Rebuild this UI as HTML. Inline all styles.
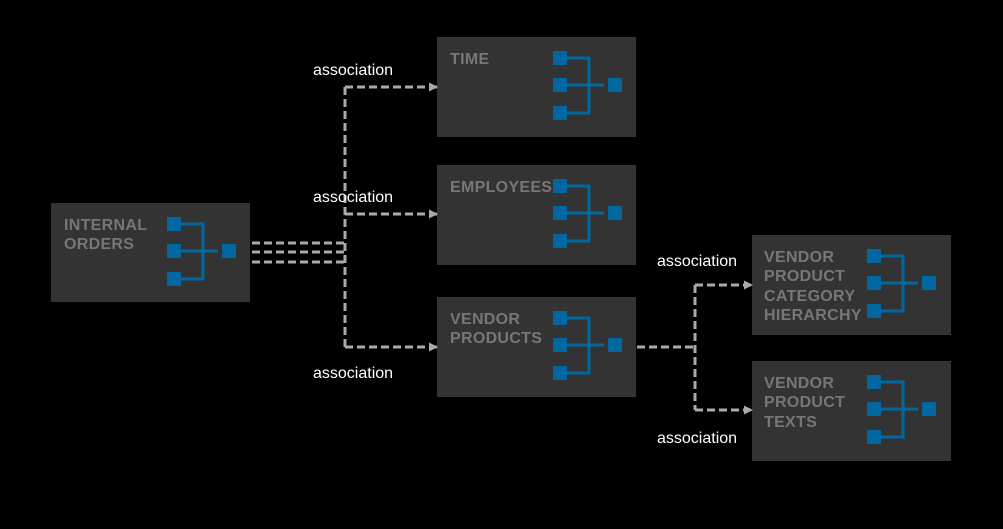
<!DOCTYPE html>
<html><head><style>
body{margin:0;background:#000;width:1003px;height:524px;overflow:hidden;font-family:"Liberation Sans",sans-serif}
</style></head><body>
<svg width="1003" height="524" xmlns="http://www.w3.org/2000/svg">
<defs>
<marker id="a" markerWidth="9" markerHeight="9" refX="8" refY="4.5" orient="auto" markerUnits="userSpaceOnUse"><path d="M0,0 L9,4.5 L0,9 z" fill="#aaa"/></marker>
<g id="ic">
<rect x="0" y="0" width="14" height="14" fill="#0067a0"/>
<rect x="0" y="27" width="14" height="14" fill="#0067a0"/>
<rect x="0" y="55" width="14" height="14" fill="#0067a0"/>
<rect x="55" y="27" width="14" height="14" fill="#0067a0"/>
<path d="M14,7 H36 V62 H14 M14,34 H51" fill="none" stroke="#0067a0" stroke-width="3"/>
</g>
</defs>
<g fill="#333">
<rect x="51" y="203" width="199" height="99"/>
<rect x="437" y="37" width="199" height="100"/>
<rect x="437" y="165" width="199" height="100"/>
<rect x="437" y="297" width="199" height="100"/>
<rect x="752" y="235" width="199" height="100"/>
<rect x="752" y="361" width="199" height="100"/>
</g>
<use href="#ic" x="167" y="217"/>
<use href="#ic" x="553" y="51"/>
<use href="#ic" x="553" y="179"/>
<use href="#ic" x="553" y="311"/>
<use href="#ic" x="867" y="249"/>
<use href="#ic" x="867" y="375"/>
<g font-weight="bold" font-size="16" fill="#777" letter-spacing="0.3">
<text x="64" y="230">INTERNAL</text><text x="64" y="249">ORDERS</text>
<text x="450" y="64">TIME</text>
<text x="450" y="192">EMPLOYEES</text>
<text x="450" y="324">VENDOR</text><text x="450" y="343">PRODUCTS</text>
<text x="764" y="262">VENDOR</text><text x="764" y="281">PRODUCT</text><text x="764" y="301">CATEGORY</text><text x="764" y="320">HIERARCHY</text>
<text x="764" y="388">VENDOR</text><text x="764" y="407">PRODUCT</text><text x="764" y="427">TEXTS</text>
</g>
<g fill="none" stroke="#aaa" stroke-width="3" stroke-dasharray="8,4">
<path d="M252,243 H345"/><path d="M252,252 H345"/><path d="M252,262 H345"/>
<path d="M345,87 V347"/>
<path d="M345,87 H437" marker-end="url(#a)"/>
<path d="M345,214 H437" marker-end="url(#a)"/>
<path d="M345,347 H437" marker-end="url(#a)"/>
<path d="M637,347 H695"/>
<path d="M695,285 V410"/>
<path d="M695,285 H752" marker-end="url(#a)"/>
<path d="M695,410 H752" marker-end="url(#a)"/>
</g>
<g fill="#fff" font-size="16">
<text x="313" y="75">association</text>
<text x="313" y="202">association</text>
<text x="313" y="378">association</text>
<text x="657" y="266">association</text>
<text x="657" y="443">association</text>
</g>
</svg>
</body></html>
